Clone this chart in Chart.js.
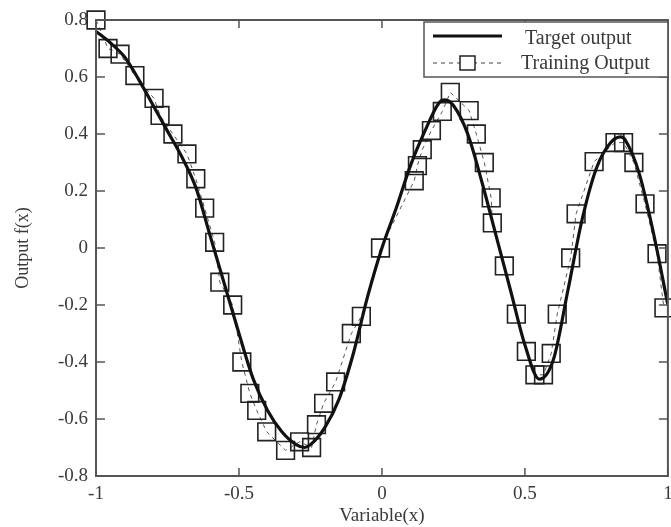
<!DOCTYPE html>
<html>
<head>
<meta charset="utf-8">
<script src="https://cdn.jsdelivr.net/npm/chart.js@4/dist/chart.umd.min.js"></script>
<style>
  html, body { margin: 0; padding: 0; background: #fff; overflow: hidden; }
  #wrap { width: 682px; height: 527px; }
</style>
</head>
<body>
<div id="wrap"><canvas id="chartSalida"></canvas></div>
<script>
// curva objetivo
const targetX = [-1, -0.95, -0.9, -0.85, -0.8, -0.75, -0.7, -0.65, -0.6, -0.55, -0.5, -0.45, -0.4, -0.35, -0.3, -0.27, -0.25, -0.2, -0.15, -0.1, -0.05, 0, 0.05, 0.1, 0.15, 0.2, 0.22, 0.25, 0.3, 0.35, 0.4, 0.45, 0.5, 0.55, 0.6, 0.65, 0.7, 0.75, 0.8, 0.835, 0.85, 0.9, 0.95, 1];
const targetY = [0.76, 0.72, 0.67, 0.59, 0.50, 0.41, 0.32, 0.21, 0.04, -0.13, -0.30, -0.46, -0.57, -0.645, -0.69, -0.70, -0.69, -0.63, -0.53, -0.37, -0.17, 0.0, 0.14, 0.29, 0.41, 0.51, 0.52, 0.50, 0.40, 0.23, 0.04, -0.15, -0.34, -0.46, -0.39, -0.15, 0.10, 0.28, 0.37, 0.39, 0.38, 0.26, 0.05, -0.20];

// puntos de entrenamiento
const trainX = [-1, -0.958, -0.916, -0.864, -0.797, -0.776, -0.731, -0.682, -0.651, -0.62, -0.585, -0.567, -0.522, -0.49, -0.462, -0.438, -0.403, -0.337, -0.288, -0.246, -0.229, -0.204, -0.162, -0.107, -0.072, -0.005, 0.113, 0.124, 0.141, 0.173, 0.211, 0.239, 0.305, 0.33, 0.358, 0.382, 0.386, 0.428, 0.47, 0.505, 0.535, 0.565, 0.592, 0.613, 0.66, 0.679, 0.742, 0.815, 0.845, 0.881, 0.92, 0.962, 0.986];
const trainY = [0.80, 0.70, 0.68, 0.605, 0.525, 0.465, 0.40, 0.33, 0.243, 0.14, 0.02, -0.12, -0.20, -0.40, -0.51, -0.57, -0.645, -0.71, -0.68, -0.70, -0.62, -0.545, -0.47, -0.30, -0.24, 0.0, 0.236, 0.289, 0.345, 0.412, 0.479, 0.546, 0.482, 0.40, 0.30, 0.176, 0.088, -0.063, -0.232, -0.363, -0.445, -0.445, -0.37, -0.232, -0.035, 0.12, 0.303, 0.37, 0.37, 0.30, 0.155, -0.02, -0.21];

const xTicks = [-1, -0.5, 0, 0.5, 1];
const yTicks = [-0.8, -0.6, -0.4, -0.2, 0, 0.2, 0.4, 0.6, 0.8];
const seriesNames = ["Target output", "Training Output"];

const serif = "'Liberation Serif', 'Times New Roman', serif";
const ink = "#3a3a3a";

function toPoints(xs, ys) {
    return xs.map((x, i) => ({ x: x, y: ys[i] }));
}

// marco con marcas hacia adentro y leyenda dibujada a mano
const marcoPlugin = {
    id: "marco",
    afterDraw(chart) {
        const { ctx, chartArea: a, scales } = chart;
        ctx.save();
        ctx.strokeStyle = "#555";
        ctx.lineWidth = 2;
        ctx.strokeRect(a.left, a.top, a.right - a.left, a.bottom - a.top);

        ctx.lineWidth = 1.5;
        ctx.beginPath();
        xTicks.forEach(v => {
            const px = scales.x.getPixelForValue(v);
            ctx.moveTo(px, a.bottom); ctx.lineTo(px, a.bottom - 8);
            ctx.moveTo(px, a.top); ctx.lineTo(px, a.top + 8);
        });
        yTicks.forEach(v => {
            const py = scales.y.getPixelForValue(v);
            ctx.moveTo(a.left, py); ctx.lineTo(a.left + 9, py);
            ctx.moveTo(a.right, py); ctx.lineTo(a.right - 9, py);
        });
        ctx.stroke();

        // leyenda
        const lx = 424, ly = 22, lw = a.right - 424, lh = 55;
        ctx.fillStyle = "#fff";
        ctx.fillRect(lx, ly, lw, lh);
        ctx.strokeStyle = "#555";
        ctx.lineWidth = 1.5;
        ctx.strokeRect(lx, ly, lw, lh);

        ctx.strokeStyle = "#111";
        ctx.lineWidth = 3;
        ctx.beginPath();
        ctx.moveTo(433, 36); ctx.lineTo(502, 36);
        ctx.stroke();

        ctx.strokeStyle = "#444";
        ctx.lineWidth = 1;
        ctx.setLineDash([4, 4]);
        ctx.beginPath();
        ctx.moveTo(433, 63); ctx.lineTo(502, 63);
        ctx.stroke();
        ctx.setLineDash([]);
        ctx.lineWidth = 1.5;
        ctx.fillStyle = "#fff";
        ctx.fillRect(460, 56, 15, 14);
        ctx.strokeStyle = "#222";
        ctx.strokeRect(460, 56, 15, 14);

        ctx.fillStyle = ink;
        ctx.font = "20px " + serif;
        ctx.textBaseline = "middle";
        ctx.textAlign = "left";
        ctx.fillText(chart.data.datasets[0].label, 525, 39);
        ctx.fillText(chart.data.datasets[1].label, 521, 64);
        ctx.restore();
    }
};

document.addEventListener("DOMContentLoaded", () => {
    const ctx = document.getElementById("chartSalida");

    new Chart(ctx, {
        type: "scatter",
        data: {
            datasets: [
                {
                    label: seriesNames[0],
                    data: toPoints(targetX, targetY),
                    showLine: true,
                    borderColor: "#111",
                    borderWidth: 3.2,
                    pointRadius: 0,
                    cubicInterpolationMode: "monotone",
                    order: 0
                },
                {
                    label: seriesNames[1],
                    data: toPoints(trainX, trainY),
                    showLine: true,
                    clip: false,
                    borderColor: "#555",
                    borderWidth: 1,
                    borderDash: [4, 4],
                    pointStyle: "rect",
                    pointRadius: 12.5,
                    pointBorderColor: "#222",
                    pointBorderWidth: 1.6,
                    pointBackgroundColor: "rgba(0,0,0,0)",
                    order: 1
                }
            ]
        },
        options: {
            responsive: true,
            maintainAspectRatio: false,
            animation: false,
            layout: { padding: { top: 20, right: 0, left: 0, bottom: 0 } },
            plugins: {
                legend: { display: false },
                tooltip: { enabled: false }
            },
            scales: {
                x: {
                    type: "linear",
                    min: -1,
                    max: 1,
                    afterBuildTicks: s => { s.ticks = xTicks.map(v => ({ value: v })); },
                    afterFit: s => { s.height = 51; },
                    grid: { display: false, drawTicks: false },
                    border: { display: false },
                    ticks: {
                        color: ink,
                        padding: 7,
                        font: { family: serif, size: 19 },
                        callback: v => String(v)
                    },
                    title: {
                        display: true,
                        text: "Variable(x)",
                        color: ink,
                        padding: { top: 0, bottom: 0 },
                        font: { family: serif, size: 19 }
                    }
                },
                y: {
                    min: -0.8,
                    max: 0.8,
                    afterBuildTicks: s => { s.ticks = yTicks.map(v => ({ value: v })); },
                    afterFit: s => { s.width = 96; },
                    grid: { display: false, drawTicks: false },
                    border: { display: false },
                    ticks: {
                        color: ink,
                        padding: 8,
                        font: { family: serif, size: 19 },
                        callback: v => String(Math.round(v * 10) / 10)
                    },
                    title: {
                        display: true,
                        text: "Output f(x)",
                        color: ink,
                        padding: { top: 12, bottom: 0 },
                        font: { family: serif, size: 18 }
                    }
                }
            }
        },
        plugins: [marcoPlugin]
    });
});
</script>
</body>
</html>
